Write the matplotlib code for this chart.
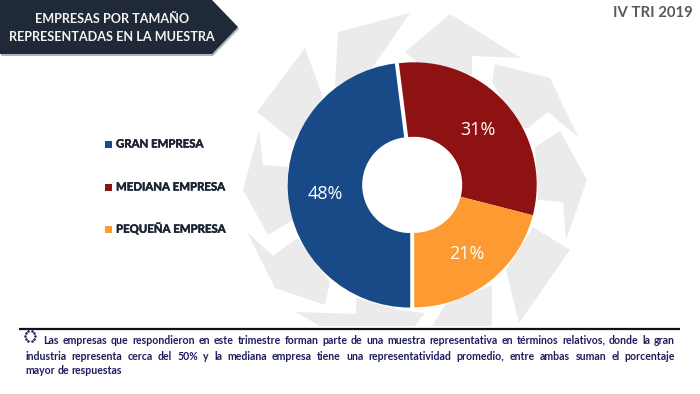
import numpy as np
import matplotlib
matplotlib.use("Agg")
import matplotlib.pyplot as plt
import matplotlib.patheffects as pe
from matplotlib.patches import Polygon, Rectangle

# data
categorias = ["GRAN EMPRESA", "MEDIANA EMPRESA", "PEQUEÑA EMPRESA"]
valores = [48, 31, 21]
colores = ["#174a86", "#8f1212", "#fd9a32"]

titulo = ["EMPRESAS POR TAMAÑO", "REPRESENTADAS EN LA MUESTRA"]
periodo = "IV TRI 2019"
lineas_nota = [
    "Las empresas que respondieron en este trimestre forman parte de una muestra representativa en términos relativos, donde la gran",
    "industria representa cerca del 50%  y la mediana empresa  tiene una representatividad promedio, entre ambas suman el porcentaje",
    "mayor de respuestas",
]

# logo de fondo, en pixeles de la imagen
logo = [
    [(305, 48), (257, 112), (293, 141), (323, 97)],
    [(338, 32), (410, 13), (373, 67), (335, 87)],
    [(259, 131), (263, 165), (288, 167), (293, 220), (268, 235), (243, 190)],
    [(247, 232), (273, 256), (297, 238), (330, 282), (325, 305), (275, 288)],
    [(296, 312), (356, 314), (356, 298), (400, 310), (425, 313), (415, 326), (320, 326)],
    [(492, 285), (492, 326), (432, 326), (445, 305)],
    [(506, 270), (533, 227), (570, 250), (519, 323)],
    [(535, 147), (560, 131), (587, 180), (566, 240), (563, 202), (538, 200)],
    [(495, 64), (550, 78), (578, 137), (548, 112), (528, 128), (518, 128), (492, 82)],
    [(405, 52), (450, 14), (521, 58), (472, 56), (472, 75), (420, 65)],
]

plt.rcParams["font.family"] = ["Lato", "DejaVu Sans"]

W, H = 700, 394
fig = plt.figure(figsize=(W / 100, H / 100), dpi=100, facecolor="white")

# capa de fondo en pixeles
bg = fig.add_axes([0, 0, 1, 1])
bg.set_xlim(0, W)
bg.set_ylim(H, 0)
bg.axis("off")

for p in logo:
    bg.add_patch(Polygon(p, closed=True, facecolor="#ebebeb", edgecolor="none", zorder=1))

# encabezado
punta = [(0, 0), (212, 0), (238, 27), (212, 54), (0, 54)]
sombra = [(x + 1, y + 2) for x, y in punta]
bg.add_patch(Polygon(sombra, closed=True, facecolor="#b5b5b5", edgecolor="none", zorder=2))
bg.add_patch(Polygon(punta, closed=True, facecolor="#1f2937", edgecolor="none", zorder=3))
for t, y in zip(titulo, [19, 37]):
    bg.text(112, y, t, color="#f4f4f4", fontsize=9.1, fontweight="bold", ha="center", va="center", zorder=4)

bg.text(693, 13, periodo, color="#595959", fontsize=10.7, fontweight="bold", ha="right", va="center", zorder=4)

# leyenda
grueso = [pe.withStroke(linewidth=0.35, foreground="#1c2433")]
for cat, col, y in zip(categorias, colores, [144, 187, 229]):
    bg.add_patch(Rectangle((105, y - 3.5), 7, 7, facecolor=col, edgecolor="none", zorder=4))
    bg.text(116, y, cat, color="#1c2433", fontsize=8.2, fontweight="bold", ha="left", va="center", zorder=4,
            path_effects=grueso)

# linea y nota
bg.plot([19, 680], [328.5, 328.5], color="#111111", lw=1.6, zorder=4, solid_capstyle="butt")

# icono de la nota
ang = np.linspace(0, 2 * np.pi, 11)[:-1]
bg.scatter(30 + 5 * np.cos(ang), 336 + 5 * np.sin(ang), s=3.5, color="#1c2a5a", linewidths=0, zorder=4)

# texto justificado palabra por palabra
fig.canvas.draw()
rend = fig.canvas.get_renderer()


def ancho(txt):
    t = bg.text(0, 0, txt, fontsize=7.6, fontweight="bold")
    w = t.get_window_extent(rend).width
    t.remove()
    return w


for linea, x0, x1, y in zip(lineas_nota, [43, 25, 25], [675, 675, None], [340, 356, 371]):
    palabras = linea.split()
    anchos = [ancho(p) for p in palabras]
    if x1 is None:
        hueco = ancho("a a") - 2 * ancho("a")
    else:
        hueco = (x1 - x0 - sum(anchos)) / (len(palabras) - 1)
    x = x0
    for p, w in zip(palabras, anchos):
        bg.text(x, y, p, color="#1d1d5c", fontsize=7.6, fontweight="bold", ha="left", va="center", zorder=4)
        x += w + hueco

# dona
cx, cy, r = 414.2, 184.8, 122.5
lado = 1.25 * r
ax = fig.add_axes([(cx - lado) / W, 1 - (cy + lado) / H, 2 * lado / W, 2 * lado / H])
wedges, textos, pcts = ax.pie(
    valores,
    colors=colores,
    startangle=270,
    counterclock=False,
    explode=[4 / r, 0, 0],
    radius=1,
    autopct="%d%%",
    pctdistance=0.695,
    wedgeprops={"width": 0.608, "edgecolor": "none"},
    textprops={"color": "white", "fontsize": 13},
)
for t, dy in zip(pcts, [4, 2, 2]):
    t.set_family(["Open Sans", "DejaVu Sans"])
    t.set_y(t.get_position()[1] - dy / r)
ax.patch.set_alpha(0)

fig.savefig("out.png", dpi=100)
